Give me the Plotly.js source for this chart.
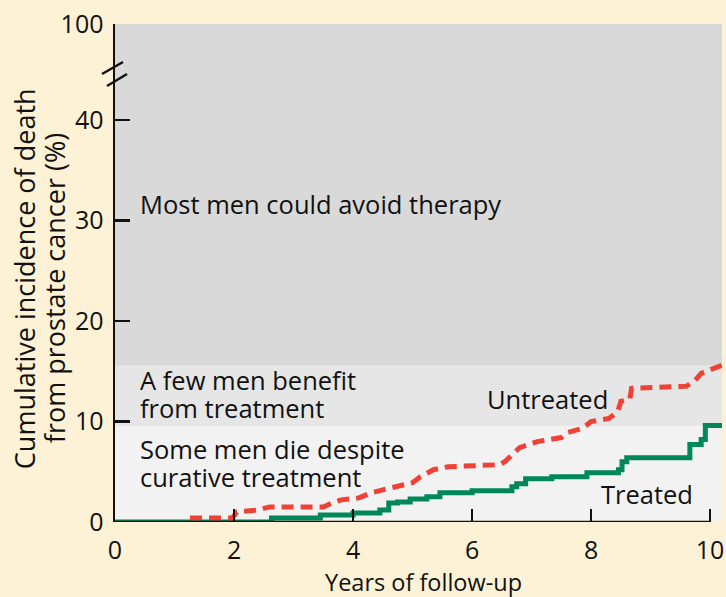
<!DOCTYPE html>
<html><head><meta charset="utf-8">
<script src="https://cdn.plot.ly/plotly-3.0.1.min.js"></script>
<style>body{margin:0;background:#fdf2d5;}#chart{width:726px;height:597px;}</style>
</head><body><div id="chart"></div>
<script>
// Data
const treatedX = [0, 2.63, 3.45, 4.0, 4.45, 4.6, 4.75, 4.96, 5.24, 5.46, 6.0, 6.67, 6.75, 6.9, 7.34, 7.93, 8.46, 8.52, 8.6, 9.66, 9.85, 9.92, 10.2];
const treatedY = [0, 0.4, 0.7, 0.9, 1.2, 1.9, 2.0, 2.3, 2.5, 2.9, 3.1, 3.5, 3.8, 4.3, 4.5, 4.9, 5.2, 6.0, 6.4, 7.7, 8.2, 9.6, 9.6];
const untreatedX = [1.26, 1.97, 2.05, 2.4, 2.6, 3.5, 3.65, 3.8, 4.1, 4.3, 4.5, 4.75, 5.0, 5.13, 5.35, 5.6, 6.45, 6.55, 6.7, 6.8, 7.1, 7.5, 7.6, 7.85, 8.0, 8.3, 8.45, 8.5, 8.65, 8.68, 9.6, 9.75, 9.85, 10.2];
const untreatedY = [0.4, 0.4, 1.0, 1.2, 1.5, 1.5, 1.9, 2.2, 2.4, 2.9, 3.2, 3.5, 3.9, 4.5, 5.2, 5.5, 5.7, 6.0, 6.8, 7.4, 8.0, 8.4, 8.9, 9.3, 10.0, 10.3, 11.0, 12.0, 12.2, 13.3, 13.5, 14.1, 14.8, 15.6];
const xTickVals = [0, 2, 4, 6, 8, 10];
const xTickText = ["0", "2", "4", "6", "8", "10"];
const yTickVals = [0, 10, 20, 30, 40, 49.55];
const yTickText = ["0", "10", "20", "30", "40", "100"];
const bandBenefitTop = 15.6;
const bandDieTop = 9.6;
const zoneLabels = ["Most men could avoid therapy", "A few men benefit", "from treatment", "Some men die despite", "curative treatment"];
const zoneLabelY = [31.6, 14.1, 11.35, 7.25, 4.5];
const seriesLabels = ["Untreated", "Treated"];
const seriesLabelX = [6.22, 8.13];
const seriesLabelY = [12.25, 2.8];
const xTitle = "Years of follow-up";
const yTitleLines = ["Cumulative incidence of death", "from prostate cancer (%)"];

const FONT = "Open Sans, DejaVu Sans, sans-serif";
const TXT = '#111';

const traces = [
  {x: treatedX, y: treatedY, type: 'scatter', mode: 'lines', line: {shape: 'hv', color: '#00875a', width: 5}, hoverinfo: 'none'},
  {x: untreatedX, y: untreatedY, type: 'scatter', mode: 'lines', line: {color: '#ef4136', width: 5, dash: '12px,7px'}, hoverinfo: 'none'}
];

const annotations = [];
zoneLabels.forEach((t, i) => annotations.push({text: t, x: 0.385, y: zoneLabelY[i], xref: 'x', yref: 'y', xanchor: 'left', yanchor: 'middle', showarrow: false, font: {size: 25.5, family: FONT, color: TXT}}));
seriesLabels.forEach((t, i) => annotations.push({text: t, x: seriesLabelX[i], y: seriesLabelY[i], xref: 'x', yref: 'y', xanchor: 'left', yanchor: 'middle', showarrow: false, font: {size: 25.5, family: FONT, color: TXT}}));
annotations.push({text: xTitle, x: 5.18, xref: 'x', y: 0, yref: 'paper', yshift: -60, xanchor: 'center', yanchor: 'middle', showarrow: false, font: {size: 23.5, family: FONT, color: TXT}});
annotations.push({text: yTitleLines[0], textangle: -90, x: -0.148, xref: 'paper', y: 0.488, yref: 'paper', xanchor: 'center', yanchor: 'middle', showarrow: false, font: {size: 27, family: FONT, color: TXT}});
annotations.push({text: yTitleLines[1], textangle: -90, x: -0.0985, xref: 'paper', y: 0.47, yref: 'paper', xanchor: 'center', yanchor: 'middle', showarrow: false, font: {size: 27, family: FONT, color: TXT}});

const layout = {
  width: 726, height: 597,
  margin: {l: 115, r: 4, t: 24, b: 75},
  paper_bgcolor: '#fdf2d5',
  plot_bgcolor: '#d9d9d9',
  showlegend: false,
  font: {family: FONT, size: 25, color: TXT},
  xaxis: {
    range: [0, 10.2], tickvals: xTickVals, ticktext: xTickText,
    ticks: 'inside', ticklen: 13, tickwidth: 2, tickcolor: TXT,
    showgrid: false, zeroline: false, showline: false,
    tickfont: {size: 25, family: FONT, color: TXT}, ticklabelstandoff: 11
  },
  yaxis: {
    range: [0, 49.55], tickvals: yTickVals, ticktext: yTickText,
    ticks: 'inside', ticklen: 15, tickwidth: 2.5, tickcolor: TXT,
    showgrid: false, zeroline: false, showline: true, linecolor: TXT, linewidth: 2.5,
    tickfont: {size: 25, family: FONT, color: TXT}, ticklabelstandoff: 4
  },
  shapes: [
    {type: 'rect', xref: 'paper', yref: 'y', x0: 0, x1: 1, y0: bandDieTop, y1: bandBenefitTop, fillcolor: '#e6e6e6', line: {width: 0}, layer: 'below'},
    {type: 'rect', xref: 'paper', yref: 'y', x0: 0, x1: 1, y0: 0, y1: bandDieTop, fillcolor: '#f2f2f2', line: {width: 0}, layer: 'below'},
    {type: 'line', xref: 'x', yref: 'y', x0: 0, x1: 10, y0: 0, y1: 0, line: {color: TXT, width: 2.5}, layer: 'above'},
    {type: 'line', xref: 'paper', yref: 'paper', x0: -0.0214, x1: 0.0132, y0: 0.8996, y1: 0.9237, line: {color: TXT, width: 2.5}},
    {type: 'line', xref: 'paper', yref: 'paper', x0: -0.0132, x1: 0.0198, y0: 0.8755, y1: 0.8996, line: {color: TXT, width: 2.5}}
  ],
  annotations: annotations
};

Plotly.newPlot('chart', traces, layout, {displayModeBar: false, staticPlot: true});
</script></body></html>
